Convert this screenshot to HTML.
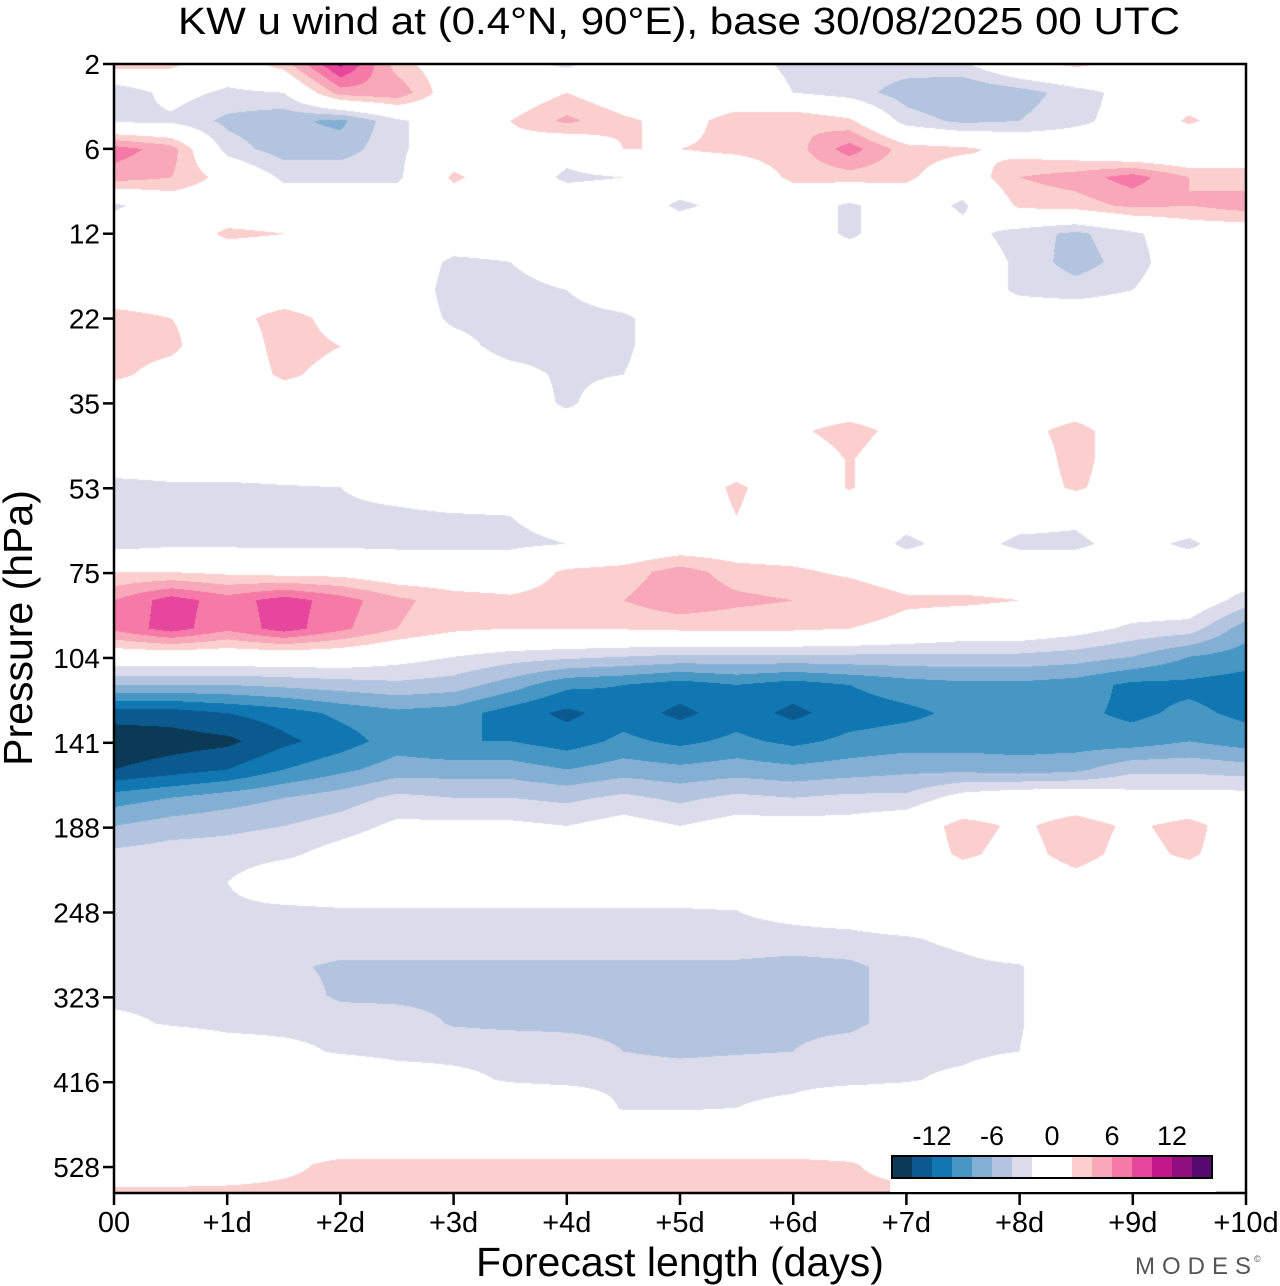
<!DOCTYPE html>
<html><head><meta charset="utf-8">
<style>
html,body{margin:0;padding:0;background:#fff;}
#wrap{position:relative;width:1280px;height:1286px;overflow:hidden;font-family:"Liberation Sans",Arial,sans-serif;}
canvas{position:absolute;left:114px;top:64px;}
svg{position:absolute;left:0;top:0;}
</style></head>
<body>
<div id="wrap">
<canvas id="cv" width="1132" height="1129"></canvas>
<svg id="sv" width="1280" height="1286"></svg>
</div>
<script>
const pressureLabels = ["2","6","12","22","35","53","75","104","141","188","248","323","416","528"];
const dayLabels = ["00","+1d","+2d","+3d","+4d","+5d","+6d","+7d","+8d","+9d","+10d"];
const levelColors = ["#0a3a56","#0b5a8f","#1077b3","#4797c5","#84afd4","#b3c4df","#dcdbeb","#ffffff","#ffffff","#fccfcf","#f8a8b8","#f57aa8","#e6479d","#c5178c","#8f0f80","#560a6e"];
const colorbarLabels = ["-12","-6","0","6","12"];
const colorbarValues = [-12,-6,0,6,12];
// u wind grid: rows top (2 hPa) -> bottom, columns every 0.5 day from 0 to 10
const uGrid = [
[3,2.5,0,3,10.5,3,0,-1,-2.5,0,0,-1,-2.5,-3,-3,-2.5,1,2.5,1,0,0],
[-4,-1,-2.5,-2,5,5.5,0,0,2,0,0,0,-2,-3,-5,-6,-5,-3,-1,0,0],
[-2.5,-2.5,-4.5,-5.5,-6.5,-2.5,0,2,4.5,2.5,1,3,4,2.5,-3,-4.5,-4,-2.5,-1,2.5,0],
[7,5,-3,-5,-5,-2.5,0,1,-1,2,2,2.5,3,7,3,2.5,1,0,-2,-2,0],
[5,4,1,-2.5,-2.5,-2.5,2.5,0,-2.5,-2,0,0,2.5,3,2.5,0,4,5,7,4,3],
[-2.5,0,0,0,0,0,0,0,0,0,-2.5,-1,0,-2.5,0,-2.5,2.5,3,4.5,4,5],
[0,0,2.5,2,0,0,0,0,0,0,0,0,0,-2.5,0,-1,-3,-4.5,-2.5,0,0],
[0,0,0,0,0,0,-2.5,-2,0,0,0,0,0,0,0,0,-2.5,-5,-3,0,0],
[0,0,0,0,0,0,-3,-3,-2,0,0,0,0,0,0,0,-2.5,-3,-2,0,0],
[3,2,1,3,1,0,-2.5,-3,-3,-2.5,0,0,0,0,0,0,0,0,0,0,0],
[3,2.5,0,3,2,0,-1,-3,-3,-2.5,0,0,0,0,0,0,0,0,0,0,0],
[2.5,1,0,2.5,1,0,0,-1,-2.5,-2,0,0,0,0,0,0,0,0,0,0,0],
[0,0,0,0,0,0,0,0,-2.5,0,0,0,0,0,0,0,0,0,0,0,0],
[0,0,0,0,0,0,0,0,0,0,0,0,1.5,3,1,0,1,3,0,0,0],
[0,0,0,0,0,0,0,0,0,0,0,0,0,2.2,0,0,0,3,0,0,0],
[-3,-2.5,-2.5,-2.2,-2,-1,0,0,0,0,0,2.5,0,2.2,0,0,0,2.5,0,2,0],
[-4,-3,-2.5,-2.5,-2.5,-2.5,-2.2,-2,-1,0,0,2,0,0,-1,0,-1,-1.5,0,0,0],
[-3,-2.5,-2.5,-2.5,-2.5,-2.5,-2.5,-2.5,-2,-1,0,0,0,0,-2.5,-1,-2.5,-2.5,-1,-2.5,0],
[2,2,1.5,1,1,0,0,0,2.5,3,5,3,2.5,1.5,0,0,0,0,0,0,0],
[6,9,7,9,7,4.5,3,2.5,3,4,5.5,4.5,4,4,2.5,2.5,2,1,0,0,-3],
[6.5,9,6.5,9,6.5,4,2.5,2,2,2.2,2.5,2.5,2.5,2,1,0,0,-1,-2.5,-3,-7],
[0,0,0,0,0,-1,-2,-3,-3.5,-4,-4.5,-4.5,-4.5,-4.5,-4.5,-4.5,-4.5,-5,-6,-8,-9],
[-6,-6,-6,-5.5,-5,-4.5,-5,-7,-9.5,-10,-11,-10,-11,-10,-9,-8.5,-8.5,-9,-10.5,-10.5,-11],
[-13,-13,-12,-11,-9.5,-8.5,-9,-11,-12.5,-11,-12.5,-11,-12.5,-11,-10.5,-9.5,-9.5,-9.5,-10.5,-9.5,-10.5],
[-15.5,-15,-14.5,-12.5,-11,-9,-10,-10,-11,-9.5,-10.5,-9.5,-10.5,-9.5,-9,-9,-9,-9,-9,-8,-9],
[-14,-13,-12,-10,-8.5,-7,-7,-7,-8,-7,-7.5,-7,-7.5,-7,-6.5,-6.5,-7,-6.5,-4.5,-4.5,-5],
[-9,-8,-7,-6,-5,-3.5,-4,-4,-4.5,-3.5,-4.5,-3.5,-4,-3.5,-3.5,-1,0,0,-1,-1,-1],
[-6,-5,-4.5,-4,-3,-1.5,-1.5,-1.5,-2,-1,-2,-1,-1,-1,0,3,1.5,3.2,1.5,3,0],
[-3.5,-3,-3,-2.5,-1,0,0,0,0,0,0,0,0,0,0,2.5,1,3,1,2.5,0],
[-2.5,-2.5,-2,0,0,0,0,0,0,0,0,0,0,0,0,0,0,1,0,0,0],
[-2.5,-2.5,-2.5,-2.5,-2.2,-2.2,-2.2,-2.2,-2.2,-2.2,-2.2,-2,-1.5,-1,0,0,0,0,0,0,0],
[-2.5,-2.5,-2.5,-2.5,-2.5,-2.5,-2.5,-2.5,-2.5,-2.5,-2.5,-2.5,-2.5,-2.5,-2.2,-1.5,0,0,0,0,0],
[-2.5,-2.5,-2.5,-3.5,-4.5,-4.5,-4.5,-4.5,-4.5,-4.5,-4.5,-4.5,-5,-4.5,-3,-2.5,-2.2,0,0,0,0],
[-2.5,-2.5,-2.5,-2.5,-4.5,-4.5,-4.5,-4.5,-4.5,-4.5,-4.5,-4.5,-4.5,-4.5,-3,-2.5,-2.2,0,0,0,0],
[-1.5,-2.2,-2.5,-2.5,-2.5,-3,-4.2,-4.5,-4.5,-4.5,-4.5,-4.5,-4.5,-4.5,-3,-2.5,-2.2,0,0,0,0],
[0,0,-1,-1.5,-2.2,-2.5,-2.5,-2.5,-3,-4,-4.5,-4.2,-4,-3,-2.5,-2.5,-2,0,0,0,0],
[0,0,0,0,0,-1,-1.5,-2.2,-2.5,-2.5,-2.5,-2.5,-2.5,-2.5,-2.2,-1.5,0,0,0,0,0],
[0,0,0,0,0,0,0,0,0,-2.2,-2.2,-2,-1.5,0,0,0,0,0,0,0,0],
[0,0,0,0,0,0,0,0,0,0,0,0,0,0,0,0,0,0,0,0,0],
[0,0,0.5,1.5,2.5,2.5,2.5,2.5,2.5,2.5,2.5,2.5,2.5,2.2,1,0,0,0,0,0,0],
[2.5,2.5,2.5,2.5,2.5,2.5,2.5,2.5,3,3,3,2.5,2.5,2.5,2.5,2.2,1.5,1,0.5,0,0]
];

const PL=114, PT=64, PW=1132, PH=1129;
const nRows=uGrid.length, nCols=uGrid[0].length;
function xOfDay(d){return PL + d/10*PW;}
function yOfLabel(i){return PT + i*84.85;}
function colorIndex(v){let k=Math.floor(v/2)+8;return Math.max(0,Math.min(15,k));}
function hex(c){return [parseInt(c.slice(1,3),16),parseInt(c.slice(3,5),16),parseInt(c.slice(5,7),16)];}
const rgb=levelColors.map(hex);

const cv=document.getElementById('cv');const ctx=cv.getContext('2d');
const img=ctx.createImageData(PW,PH);
for(let py=0;py<PH;py++){
  const gy=py/(PH-1)*(nRows-1);const r0=Math.min(nRows-2,Math.floor(gy));const fy=gy-r0;
  for(let px=0;px<PW;px++){
    const gx=px/(PW-1)*(nCols-1);const c0=Math.min(nCols-2,Math.floor(gx));const fx=gx-c0;
    const a=uGrid[r0][c0],b=uGrid[r0][c0+1],c=uGrid[r0+1][c0],d=uGrid[r0+1][c0+1];
    const v=(a*(1-fx)+b*fx)*(1-fy)+(c*(1-fx)+d*fx)*fy;
    const col=rgb[colorIndex(v)];const o=(py*PW+px)*4;
    img.data[o]=col[0];img.data[o+1]=col[1];img.data[o+2]=col[2];img.data[o+3]=255;
  }
}
ctx.putImageData(img,0,0);

const NS="http://www.w3.org/2000/svg";const sv=document.getElementById('sv');
function mk(t,attrs,parent){const e=document.createElementNS(NS,t);for(const k in attrs)e.setAttribute(k,attrs[k]);(parent||sv).appendChild(e);return e;}
function txt(s,attrs){const e=mk('text',attrs);e.textContent=s;return e;}

const frame=mk('rect',{x:PL,y:PT,width:PW,height:PH,fill:'none',stroke:'#000','stroke-width':2.5});



pressureLabels.forEach((p,i)=>{
  const y=yOfLabel(i);
  const t=mk('line',{x1:PL-11,x2:PL,y1:y,y2:y,stroke:'#000','stroke-width':2.5});
  
  
  const l=txt(p,{x:PL-14,y:y+10,'text-anchor':'end','font-size':28,fill:'#000'});
  
  
});
dayLabels.forEach((d,i)=>{
  const x=xOfDay(i);
  const t=mk('line',{x1:x,x2:x,y1:PT+PH,y2:PT+PH+12,stroke:'#000','stroke-width':2.5});
  
  
  const l=txt(d,{x:x,y:1232,'text-anchor':'middle','font-size':29,fill:'#000'});
  
  
});

const title=txt('KW u wind at (0.4°N, 90°E),  base 30/08/2025  00 UTC',{x:178,y:34,'font-size':38,fill:'#000','xml:space':'preserve',textLength:1002,lengthAdjust:'spacingAndGlyphs'});


const xt=txt('Forecast length (days)',{x:680,y:1276,'text-anchor':'middle','font-size':41,fill:'#000'});


const yt=txt('Pressure (hPa)',{x:0,y:0,'text-anchor':'middle','font-size':41,fill:'#000',transform:'translate(32,628) rotate(-90)'});


const logo=txt('MODES',{x:1135,y:1274,'font-size':24,fill:'#555','letter-spacing':'7'});


const cr=txt('©',{x:1254,y:1262,'font-size':9,fill:'#555'});



const CBX=892, CBY=1156, CBW=20, CBH=22;
function cbX(v){return CBX + (v+16)/2*CBW;}
const cbBg=mk('rect',{x:CBX-2,y:1118,width:CBW*16+6,height:74,fill:'#fff'});


levelColors.forEach((c,i)=>{
  const r=mk('rect',{x:CBX+i*CBW,y:CBY,width:CBW,height:CBH,fill:c});
  
  
});
const cbo=mk('rect',{x:CBX,y:CBY,width:CBW*16,height:CBH,fill:'none',stroke:'#000','stroke-width':2});


colorbarLabels.forEach((s,i)=>{
  const l=txt(s,{x:cbX(colorbarValues[i]),y:1145,'text-anchor':'middle','font-size':27,fill:'#000'});
  
  
});
</script>
</body></html>
